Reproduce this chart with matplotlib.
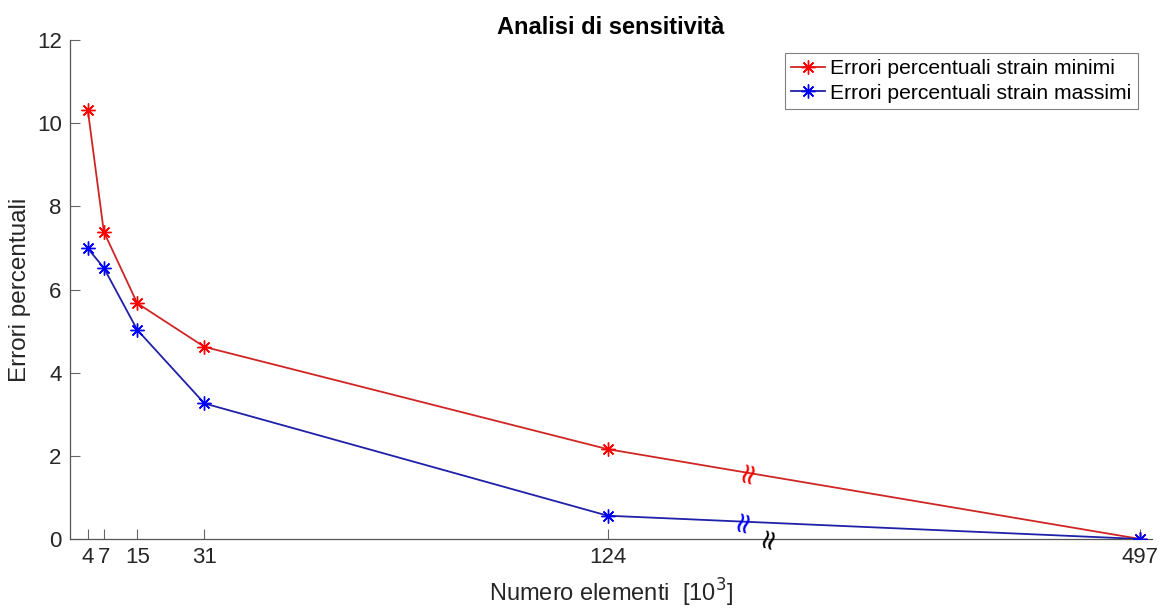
import numpy as np
import matplotlib
matplotlib.use("Agg")
import matplotlib.pyplot as plt

# ---------------- data ----------------
elements_k = [4.1, 7.8, 15.5, 31, 124, 497]          # numero elementi [10^3]
tick_labels = ["4", "7", "15", "31", "124", "497"]
err_min = [10.32, 7.39, 5.67, 4.62, 2.16, 0.0]        # errori strain minimi
err_max = [6.99, 6.52, 5.03, 3.26, 0.56, 0.0]         # errori strain massimi
labels = ["Errori percentuali strain minimi", "Errori percentuali strain massimi"]

# ---------------- broken x scale ----------------
BREAK = 124.0
K = 0.3292  # compression after the break


def fwd(x):
    x = np.asarray(x, dtype=float)
    return np.where(x <= BREAK, x, BREAK + (x - BREAK) * K)


def inv(y):
    y = np.asarray(y, dtype=float)
    return np.where(y <= BREAK, y, BREAK + (y - BREAK) / K)


plt.rcParams["font.family"] = ["Liberation Sans", "DejaVu Sans"]

fig = plt.figure(figsize=(11.64, 6.10), dpi=100)
ax = fig.add_axes([70 / 1164, 1 - 539 / 610, (1152 - 70) / 1164, (539 - 40) / 610])
ax.set_xscale("function", functions=(fwd, inv))

red_line, red_mk = "#d02525", "#ff0000"
blue_line, blue_mk = "#2020a8", "#0000ff"
asterisk = (8, 2, 0)

ax.plot(elements_k, err_min, color=red_line, lw=1.3, marker=asterisk, ms=10,
        mec=red_mk, mew=1.0, label=labels[0], zorder=3)
ax.plot(elements_k, err_max, color=blue_line, lw=1.3, marker=asterisk, ms=10,
        mec=blue_mk, mew=1.0, label=labels[1], zorder=3)

# break symbols along the lines and on the axis
a, b = float(fwd(elements_k[-2])), float(fwd(elements_k[-1]))
for ys, col, t in ((err_min, red_mk, 0.263), (err_max, blue_mk, 0.254)):
    xs = a + t * (b - a)
    yv = ys[-2] + t * (ys[-1] - ys[-2])
    ax.text(float(inv(xs)), yv + 0.04, "≈", rotation=75, color=col, fontsize=21,
            ha="center", va="center", family="DejaVu Sans", zorder=4)
xs_axis = a + 0.30 * (b - a)
ax.text(float(inv(xs_axis)), 0.04, "≈", rotation=75, color="black", fontsize=20,
        ha="center", va="center", family="DejaVu Sans",
        zorder=4, clip_on=False)

ax.set_xlim(0, float(inv(249.5)))
ax.set_ylim(0, 12)
ax.set_xticks(elements_k)
ax.set_xticklabels(tick_labels)
ax.set_yticks(np.arange(0, 13, 2))
ax.minorticks_off()

for s in ("top", "right"):
    ax.spines[s].set_visible(False)
for s in ("left", "bottom"):
    ax.spines[s].set_color("#555555")
    ax.spines[s].set_linewidth(0.9)

ax.tick_params(direction="in", length=7, width=0.8, color="#666666",
               labelsize=16, labelcolor="#262626", pad=6)

ax.set_title("Analisi di sensitività", fontsize=17, fontweight="bold",
             color="black", pad=4)
ax.set_xlabel("Numero elementi  [10$^3$]", fontsize=17, color="#262626", labelpad=6)
ax.set_ylabel("Errori percentuali", fontsize=17.5, color="#262626", labelpad=4)

leg = ax.legend(loc="upper right", bbox_to_anchor=((1138 - 70) / 1082, (539 - 53) / 499),
                borderaxespad=0, fontsize=15.2, frameon=True, fancybox=False,
                edgecolor="#808080", framealpha=1, handlelength=1.6,
                handletextpad=0.25, labelspacing=0.25, borderpad=0.3)
leg.get_frame().set_linewidth(0.8)

fig.savefig("out.png", dpi=100)
